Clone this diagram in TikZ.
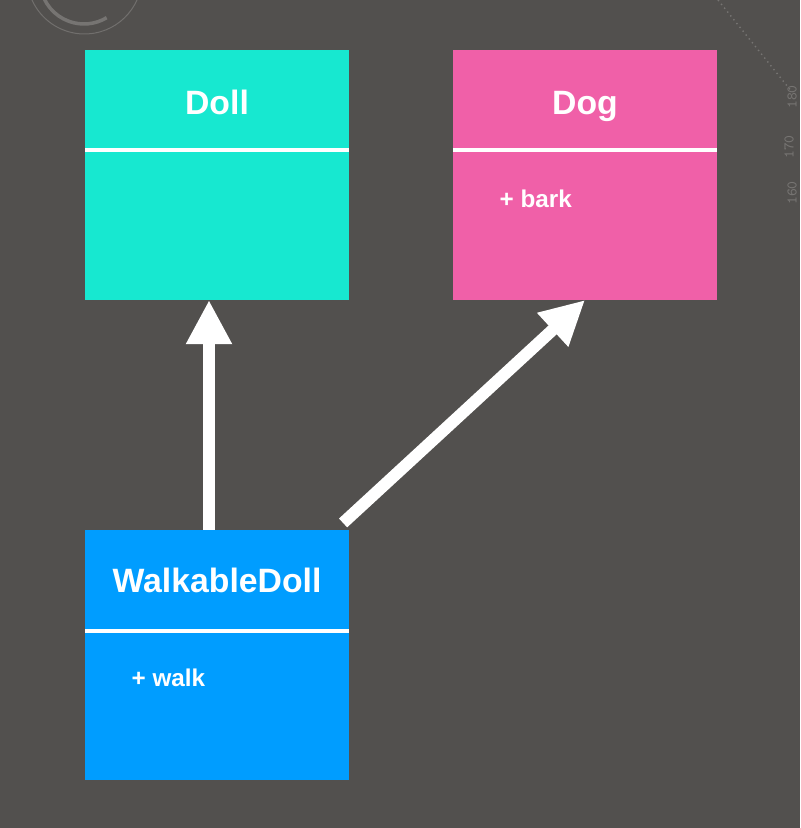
\documentclass[tikz,border=0pt]{standalone}
\usepackage{fontspec}
\setmainfont{Liberation Sans}
\usetikzlibrary{arrows.meta, positioning}
\definecolor{bg}{RGB}{82,80,78}
\definecolor{dollteal}{RGB}{23,232,208}
\definecolor{dogpink}{RGB}{240,96,168}
\definecolor{walkblue}{RGB}{0,157,255}
\definecolor{decogray}{RGB}{118,116,114}
\tikzset{
  classbox/.style={minimum width=2.64cm, minimum height=2.5cm, inner sep=0pt, outer sep=0pt},
  classname/.style={text=white, font=\fontsize{9.6}{11}\selectfont\bfseries, anchor=base, inner sep=0pt},
  member/.style={text=white, font=\fontsize{6.9}{8}\selectfont\bfseries, anchor=base west, inner sep=0pt},
  divider/.style={white, line width=0.035cm},
  inherit/.style={white, line width=0.12cm, -{Triangle[width=0.43cm, length=0.44cm]}},
  ruler/.style={text=decogray, font=\fontsize{4.2}{5}\selectfont\ttfamily, rotate=90, inner sep=0pt}
}

\begin{document}
\begin{tikzpicture}[x=0.01cm, y=-0.01cm]
    \clip (0,0) rectangle (800,828);
    \fill[bg] (0,0) rectangle (800,828);

    % wallpaper bits
    \draw[decogray!85!bg, line width=0.01cm] (84.5,-23.5) ++(-10:57.5) arc[start angle=-10, end angle=190, radius=57.5];
    \draw[decogray, line width=0.035cm] (84,-20) ++(170:44) arc[start angle=170, end angle=59, radius=44];
    \draw[decogray, densely dotted] (718,0) -- (792,92);
    \node[ruler] (r180) at (792,97) {180};
    \node[ruler] (r170) at (789,147) {170};
    \node[ruler] (r160) at (792,193) {160};

    % classes
    \node[classbox, fill=dollteal] (doll) at (217,175) {};
    \node[classbox, fill=dogpink] (dog) at (585,175) {};
    \node[classbox, fill=walkblue] (walk) at (217,655) {};

    \node[classname] (dollname) at ([yshift=-0.65cm]doll.north) {Doll};
    \node[classname] (dogname) at ([yshift=-0.65cm]dog.north) {Dog};
    \node[classname] (walkname) at ([yshift=-0.63cm]walk.north) {WalkableDoll};

    \draw[divider] ([yshift=-1cm]doll.north west) -- ([yshift=-1cm]doll.north east);
    \draw[divider] ([yshift=-1cm]dog.north west) -- ([yshift=-1cm]dog.north east);
    \draw[divider] ([yshift=-1.01cm]walk.north west) -- ([yshift=-1.01cm]walk.north east);

    \node[member] (bark) at ([xshift=0.46cm, yshift=-1.57cm]dog.north west) {+ bark};
    \node[member] (walkm) at ([xshift=0.46cm, yshift=-1.56cm]walk.north west) {+ walk};

    % inheritance
    \draw[inherit] ([xshift=-0.08cm]walk.north) -- ([xshift=-0.08cm]doll.south);
    \draw[inherit] ([xshift=-0.06cm, yshift=0.07cm]walk.north east) -- (dog.south);
\end{tikzpicture}
\end{document}
